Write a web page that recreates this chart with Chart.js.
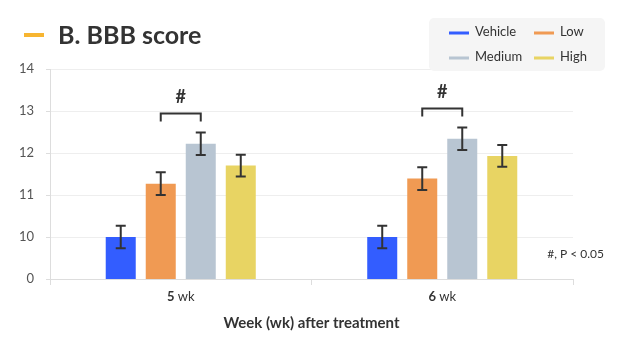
<!DOCTYPE html>
<html>
<head>
<meta charset="utf-8">
<script src="https://cdn.jsdelivr.net/npm/chart.js@4.4.1/dist/chart.umd.min.js"></script>
<style>
  body { margin: 0; background: #fff; }
  canvas { display: block; }
</style>
</head>
<body>
<canvas id="bbbChart" width="630" height="350"></canvas>
<script>
// data
const weeks = ["5", "6"];
const seriesNames = ["Vehicle", "Low", "Medium", "High"];
const seriesColors = ["#335dff", "#f09a53", "#b8c5d2", "#e8d463"];

const vehicle = [10.0, 10.0];
const low = [11.27, 11.39];
const medium = [12.22, 12.34];
const high = [11.70, 11.93];

const vehicleErr = [0.27, 0.27];
const lowErr = [0.27, 0.27];
const mediumErr = [0.27, 0.27];
const highErr = [0.26, 0.26];

// y axis is broken: 0 then 10..14
const yBreakValue = 9;
const yTickLabels = ["0", "10", "11", "12", "13", "14"];

// significance brackets: group index, from series, to series
const compareGroup = [0, 1];
const compareFrom = [1, 1];
const compareTo = [2, 2];
const compareLabel = ["#", "#"];

const titleText = "B. BBB score";
const xTitle = "Week (wk) after treatment";
const unitText = "wk";
const noteText = "#, P < 0.05";

const allValues = [vehicle, low, medium, high];
const allErrors = [vehicleErr, lowErr, mediumErr, highErr];

const FONT = "Lato, 'Noto Sans', sans-serif";
const INK = "#333333";

const extrasPlugin = {
    id: "extras",

    afterDatasetsDraw(chart) {
        const ctx = chart.ctx;
        const y = chart.scales.y;

        ctx.save();
        ctx.strokeStyle = INK;
        ctx.lineWidth = 2;

        // error bars
        allValues.forEach((vals, s) => {
            const meta = chart.getDatasetMeta(s);
            vals.forEach((v, i) => {
                const x = meta.data[i].x;
                const top = y.getPixelForValue(v + allErrors[s][i]);
                const bot = y.getPixelForValue(v - allErrors[s][i]);
                ctx.beginPath();
                ctx.moveTo(x, top); ctx.lineTo(x, bot);
                ctx.moveTo(x - 5, top); ctx.lineTo(x + 5, top);
                ctx.moveTo(x - 5, bot); ctx.lineTo(x + 5, bot);
                ctx.stroke();
            });
        });

        // brackets
        compareGroup.forEach((g, k) => {
            const a = compareFrom[k], b = compareTo[k];
            const xa = chart.getDatasetMeta(a).data[g].x;
            const xb = chart.getDatasetMeta(b).data[g].x;
            const topVal = Math.max(
                allValues[a][g] + allErrors[a][g],
                allValues[b][g] + allErrors[b][g]
            );
            const by = y.getPixelForValue(topVal) - 19;
            ctx.beginPath();
            ctx.moveTo(xa, by + 8);
            ctx.lineTo(xa, by);
            ctx.lineTo(xb, by);
            ctx.lineTo(xb, by + 8);
            ctx.stroke();

            ctx.fillStyle = INK;
            ctx.font = "bold 18px " + FONT;
            ctx.textAlign = "center";
            ctx.textBaseline = "middle";
            ctx.fillText(compareLabel[k], (xa + xb) / 2, by - 16);
        });

        ctx.restore();
    },

    afterDraw(chart) {
        const ctx = chart.ctx;
        const x = chart.scales.x;
        const area = chart.chartArea;

        ctx.save();

        // title with marker
        ctx.fillStyle = "#f7b531";
        ctx.fillRect(24, 33, 20, 4);
        ctx.fillStyle = INK;
        ctx.font = "bold 25px " + FONT;
        ctx.textAlign = "left";
        ctx.textBaseline = "alphabetic";
        ctx.fillText(titleText, 58, 44, 149);

        // legend box, two columns
        ctx.fillStyle = "#f5f5f5";
        ctx.beginPath();
        ctx.roundRect(429, 18, 176, 53, 5);
        ctx.fill();

        ctx.font = "13px " + FONT;
        ctx.textBaseline = "middle";
        seriesNames.forEach((name, s) => {
            const col = s % 2, row = Math.floor(s / 2);
            const lx = 449 + col * 85;
            const ly = 33 + row * 25;
            ctx.fillStyle = seriesColors[s];
            ctx.fillRect(lx, ly - 1.5, 20, 3);
            ctx.fillStyle = INK;
            ctx.fillText(name, lx + 26, ly - 1);
        });

        // x category labels: bold number + unit
        ctx.textBaseline = "middle";
        weeks.forEach((w, i) => {
            const cx = x.getPixelForValue(i);
            ctx.font = "bold 13px " + FONT;
            const w1 = ctx.measureText(w + " ").width;
            ctx.font = "13px " + FONT;
            const w2 = ctx.measureText(unitText).width;
            const start = cx - (w1 + w2) / 2;
            ctx.fillStyle = INK;
            ctx.font = "bold 13px " + FONT;
            ctx.textAlign = "left";
            ctx.fillText(w, start, 297);
            ctx.font = "13px " + FONT;
            ctx.fillText(unitText, start + w1, 297);
        });

        // x axis title
        ctx.font = "bold 15px " + FONT;
        ctx.textAlign = "center";
        ctx.fillText(xTitle, (area.left + area.right) / 2, 323);

        // note
        ctx.font = "12px " + FONT;
        ctx.textAlign = "right";
        ctx.fillText(noteText, 604, 254);

        ctx.restore();
    }
};

new Chart(document.getElementById("bbbChart"), {

    type: "bar",

    data: {
        labels: weeks.map(w => w + " " + unitText),
        datasets: seriesNames.map((name, s) => ({
            label: name,
            data: allValues[s],
            backgroundColor: seriesColors[s],
            borderWidth: 0,
            categoryPercentage: 0.612,
            barPercentage: 0.75
        }))
    },

    options: {
        responsive: false,
        animation: false,
        devicePixelRatio: 1,

        layout: {
            padding: { top: 69, right: 57, bottom: 0, left: 0 }
        },

        plugins: {
            legend: { display: false },
            tooltip: { enabled: false }
        },

        scales: {
            x: {
                offset: true,
                grid: {
                    drawOnChartArea: false,
                    drawTicks: true,
                    tickLength: 6,
                    color: "#dddddd",
                    offset: true
                },
                border: { color: "#dddddd", width: 1 },
                ticks: { display: false },
                afterFit: function (scale) {
                    scale.height = 71;
                }
            },
            y: {
                min: yBreakValue,
                max: 14,
                grid: {
                    color: "#eeeeee",
                    tickLength: 4,
                    tickColor: "#dddddd"
                },
                border: { color: "#dddddd", width: 1 },
                ticks: {
                    stepSize: 1,
                    padding: 12,
                    color: "#555555",
                    font: { family: FONT, size: 13 },
                    callback: function (value, index) {
                        return yTickLabels[index];
                    }
                },
                afterFit: function (scale) {
                    scale.width = 50;
                }
            }
        }
    },

    plugins: [extrasPlugin]
});
</script>
</body>
</html>
